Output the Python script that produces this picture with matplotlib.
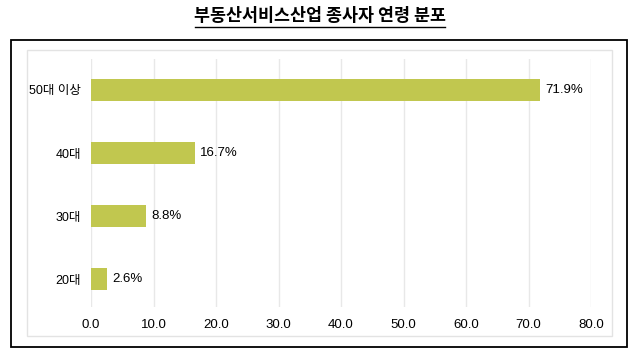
import matplotlib.pyplot as plt
from matplotlib.patches import Rectangle
from matplotlib.lines import Line2D

plt.rcParams['font.family'] = ['Liberation Sans', 'Noto Sans CJK KR', 'DejaVu Sans']

categories = ['20대', '30대', '40대', '50대 이상']
values = [2.6, 8.8, 16.7, 71.9]
ticks = [0, 10, 20, 30, 40, 50, 60, 70, 80]

W, H = 637, 356
fig = plt.figure(figsize=(W / 100, H / 100), dpi=100)

# outer black frame and inner gray frame
fig.add_artist(Rectangle((11 / W, 1 - 347 / H), 616 / W, 307 / H, transform=fig.transFigure,
                         fill=False, edgecolor='black', linewidth=1.3))
fig.add_artist(Rectangle((27 / W, 1 - 336 / H), 585 / W, 286 / H, transform=fig.transFigure,
                         fill=False, edgecolor='#e3e3e3', linewidth=1.0))

# title with underline
fig.text(320 / W, 1 - 16 / H, '부동산서비스산업 종사자 연령 분포', ha='center', va='center',
         fontsize=12.5, fontweight='bold', family=['Noto Sans CJK KR'])
fig.add_artist(Line2D([195 / W, 445 / W], [1 - 27 / H, 1 - 27 / H], transform=fig.transFigure,
                      color='black', linewidth=1.0))

ax = fig.add_axes([91 / W, 1 - 307 / H, 500 / W, 248 / H])
y = range(len(categories))
ax.barh(y, values, height=0.35, color='#c1c74f', zorder=2)
for yi, v in zip(y, values):
    ax.text(v + 0.8, yi, f'{v}%', va='center', ha='left', fontsize=9.5)

ax.set_xlim(0, 80)
ax.set_ylim(-0.44, 3.49)
ax.set_xticks(ticks)
ax.set_xticklabels([f'{t:.1f}' for t in ticks], fontsize=9.5)
ax.set_yticks(list(y))
ax.set_yticklabels(categories, fontsize=9)
ax.tick_params(length=0)
ax.tick_params(axis='x', pad=9)
ax.tick_params(axis='y', pad=7)
ax.grid(axis='x', color='#e8e8e8', linewidth=1, zorder=0)
for s in ax.spines.values():
    s.set_visible(False)

fig.savefig('out.png', dpi=100)
